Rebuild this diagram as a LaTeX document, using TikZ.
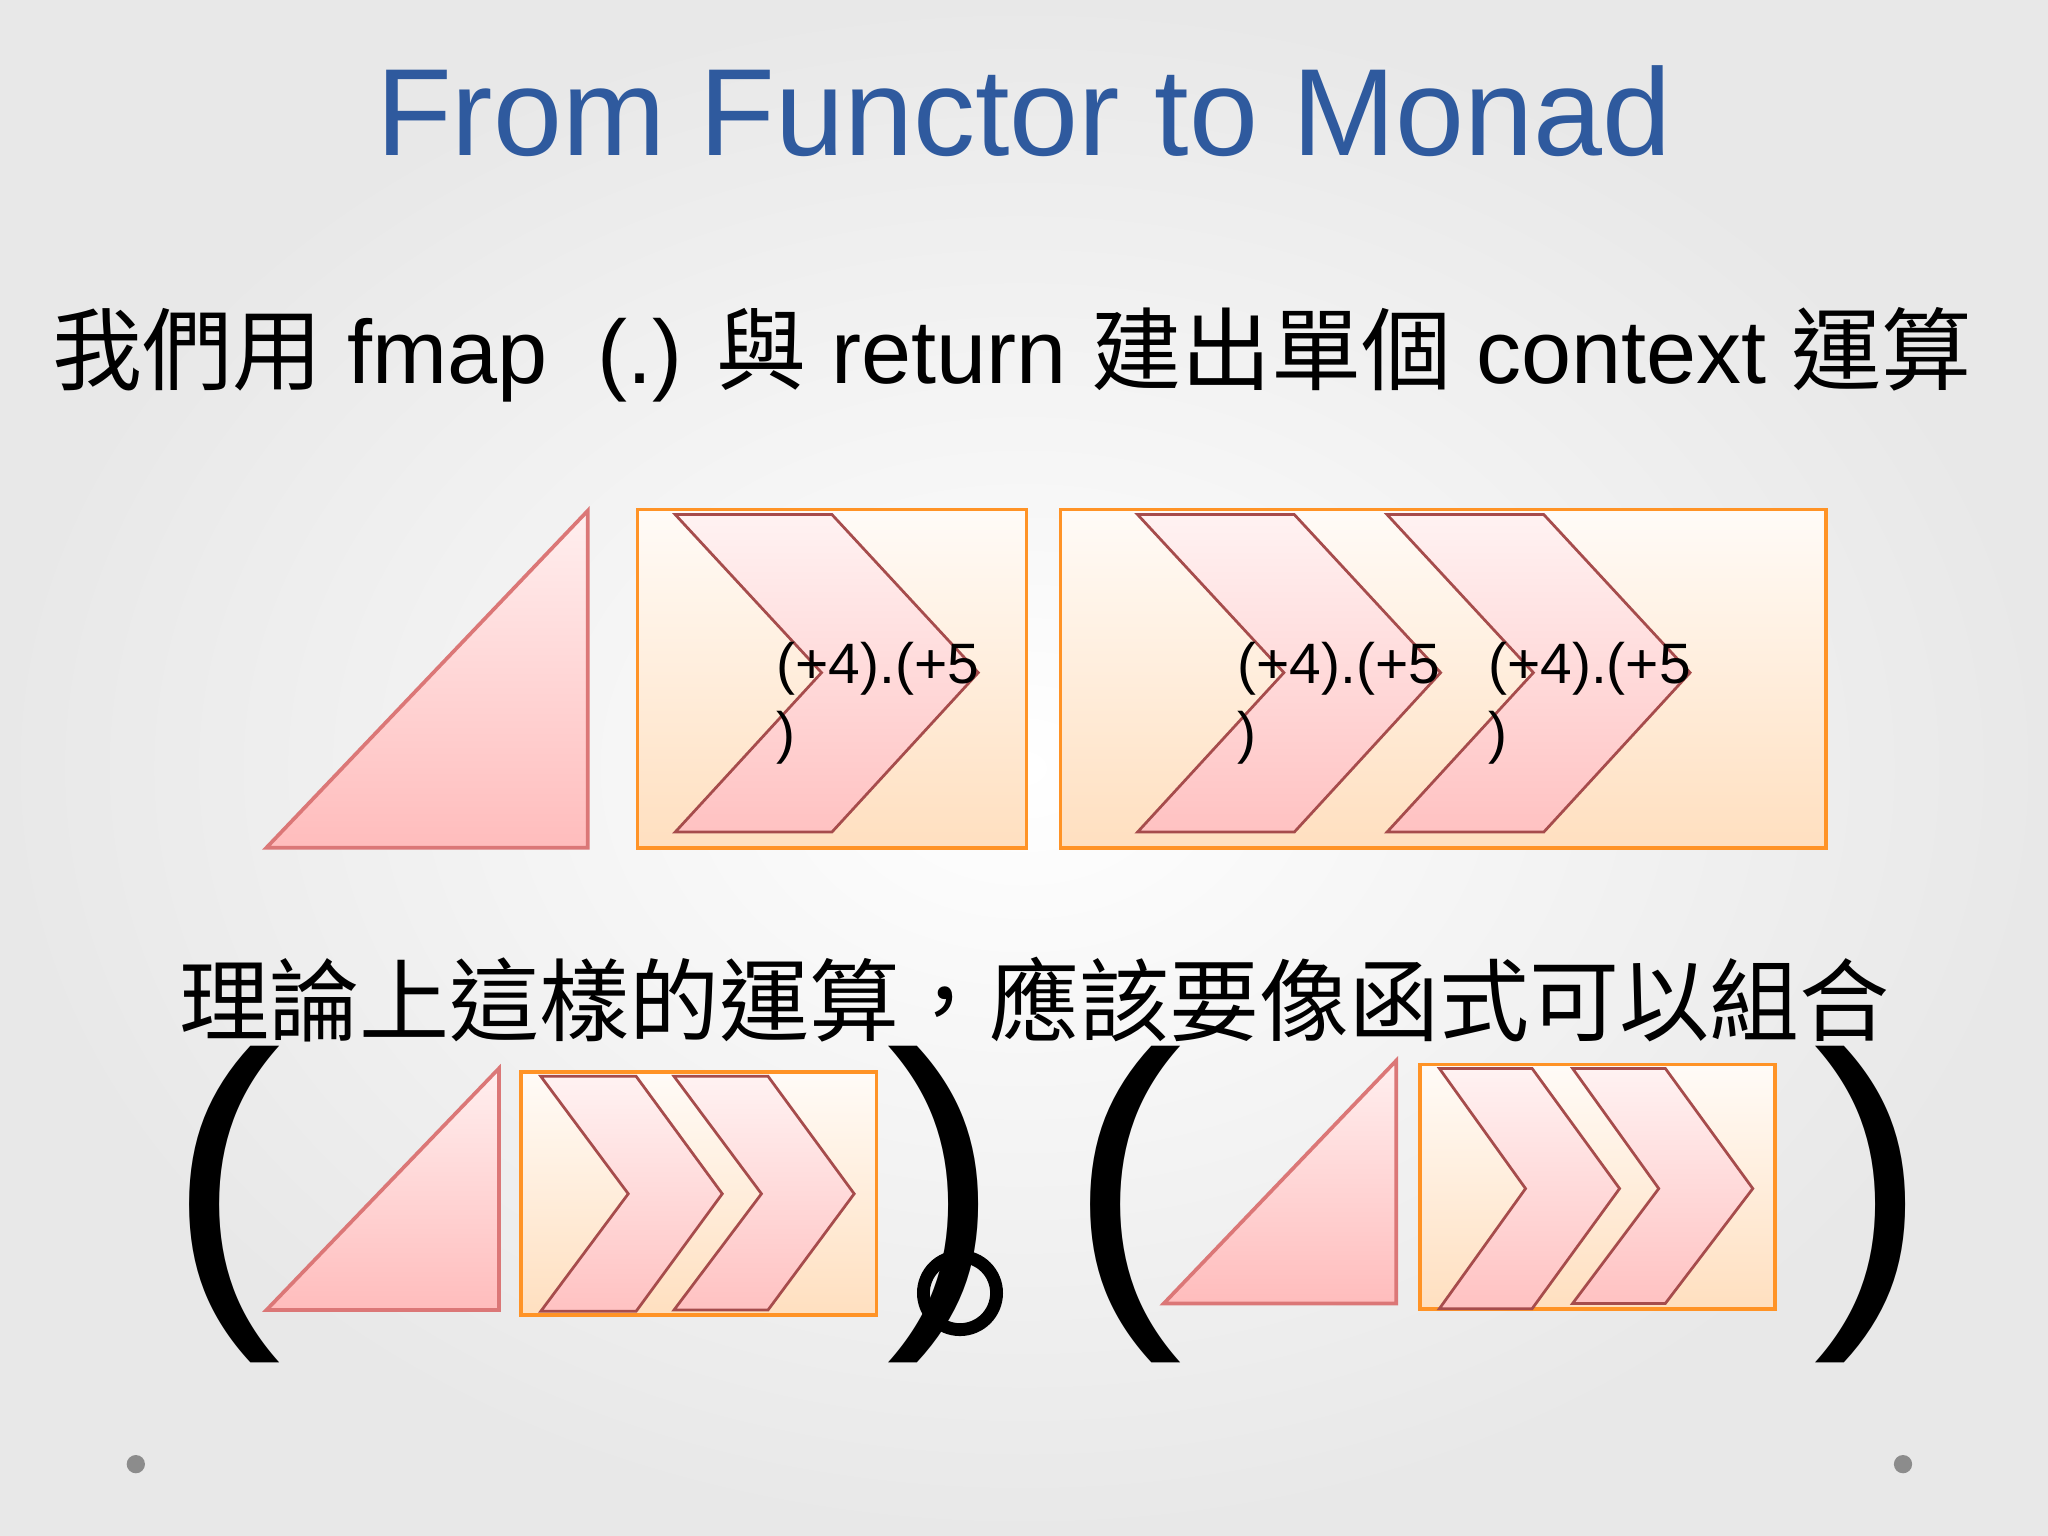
\documentclass[tikz,border=0pt]{standalone}
\usepackage{fontspec}
\setmainfont{Liberation Sans}
\newfontfamily\cjk{Noto Sans CJK TC}
\definecolor{titleblue}{HTML}{2F5A9E}
\begin{document}
\begin{tikzpicture}[x=0.01cm,y=-0.01cm,
  tri/.style={draw=red!60!pink!80!black!70,line width=0.8pt,top color=pink!25,bottom color=red!30!pink!55},
  chev/.style={draw=red!50!black!70,line width=0.6pt,top color=pink!20,bottom color=red!25!pink!55},
  ctx/.style={draw=orange!85,line width=0.8pt,top color=orange!3,bottom color=orange!25},
  lbl/.style={font=\fontsize{12.4}{14}\selectfont,anchor=west},
  big/.style={font=\fontsize{19.6}{24}\selectfont},
  par/.style={font=\fontsize{74}{80}\selectfont}]
\shade[inner color=white,outer color=black!9] (0,0) rectangle (1568,1176);
\useasboundingbox (0,0) rectangle (1568,1176);
\node[font=\fontsize{27}{32}\selectfont,text=titleblue] (title) at (784,85) {From Functor to Monad};
\node[big] (l1) at (775,272) {{\cjk 我們用} fmap \ (.) {\cjk 與} return {\cjk 建出單個} context {\cjk 運算}};
% top row
\draw[tri] (204,649) -- (450,391) -- (450,649) -- cycle;
\draw[ctx] (488,390) rectangle (786,649);
\draw[chev] (517,394) -- (637,394) -- (749,515) -- (637,637) -- (517,637) -- (629,515) -- cycle;
\node[lbl] (t1) at (582,512) {(+4).(+5};
\node[lbl] (t1b) at (582,565) {)};
\draw[ctx] (812,390) rectangle (1398,649);
\draw[chev] (871,394) -- (991,394) -- (1103,515) -- (991,637) -- (871,637) -- (983,515) -- cycle;
\draw[chev] (1062,394) -- (1182,394) -- (1294,515) -- (1182,637) -- (1062,637) -- (1174,515) -- cycle;
\node[lbl] (t2) at (935,512) {(+4).(+5};
\node[lbl] (t2b) at (935,565) {)};
\node[lbl] (t3) at (1127,512) {(+4).(+5};
\node[lbl] (t3b) at (1127,565) {)};
\node[font=\fontsize{19.6}{24}\selectfont] (l2) at (792,765) {\cjk 理論上這樣的運算，應該要像函式可以組合};
% bottom row
\node[par] (p1) at (172,922) {(};
\draw[tri] (204,1003) -- (382,818) -- (382,1003) -- cycle;
\draw[ctx] (399,821) rectangle (671,1007);
\draw[chev] (414,824) -- (487,824) -- (553,914) -- (487,1004) -- (414,1004) -- (481,914) -- cycle;
\draw[chev] (516,824) -- (588,824) -- (654,914) -- (588,1003) -- (516,1003) -- (583,914) -- cycle;
\node[par] (p2) at (722,922) {)};
\draw[line width=2.8pt] (735,990) circle (28);
\node[par] (p3) at (862,922) {(};
\draw[tri] (891,998) -- (1069,812) -- (1069,998) -- cycle;
\draw[ctx] (1087,815) rectangle (1359,1002);
\draw[chev] (1102,818) -- (1173,818) -- (1240,910) -- (1173,1002) -- (1102,1002) -- (1168,910) -- cycle;
\draw[chev] (1204,818) -- (1275,818) -- (1342,910) -- (1275,998) -- (1204,998) -- (1270,910) -- cycle;
\node[par] (p4) at (1432,922) {)};
\fill[black!45] (104,1121) circle (7) (1457,1121) circle (7);
\end{tikzpicture}
\end{document}
